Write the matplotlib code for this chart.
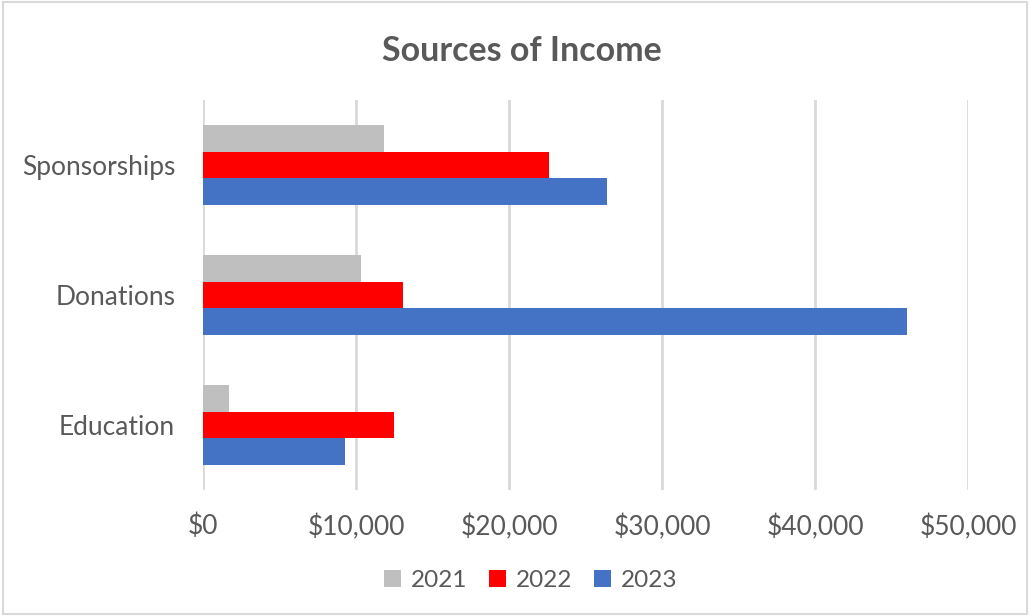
import matplotlib
matplotlib.use("Agg")
import matplotlib.pyplot as plt
import numpy as np
from matplotlib.patches import Rectangle
from matplotlib.ticker import FuncFormatter

categories = ["Education", "Donations", "Sponsorships"]
years = ["2021", "2022", "2023"]
values_2021 = [1700, 10300, 11800]
values_2022 = [12500, 13100, 22600]
values_2023 = [9300, 46000, 26400]
colors = ["#BFBFBF", "#FF0000", "#4472C4"]

plt.rcParams["font.family"] = ["Lato", "DejaVu Sans"]
text_color = "#595959"

fig = plt.figure(figsize=(10.3, 6.16), dpi=100)
ax = fig.add_axes([0.197, 0.2045, 0.743, 0.6335])

y = np.arange(len(categories))
h = 0.204
series = [values_2021, values_2022, values_2023]
offsets = [h, 0, -h]
for vals, off, col, yr in zip(series, offsets, colors, years):
    ax.barh(y + off, vals, height=h, color=col, label=yr, zorder=3)

ax.set_xlim(0, 50000)
ax.set_ylim(-0.5, 2.5)
ax.set_xticks(range(0, 50001, 10000))
ax.xaxis.set_major_formatter(FuncFormatter(lambda v, p: f"${v:,.0f}"))
ax.set_yticks(y)
ax.set_yticklabels(categories)
ax.tick_params(length=0, labelsize=19, colors=text_color)
ax.tick_params(axis="x", pad=17)
ax.tick_params(axis="y", pad=20)
ax.grid(axis="x", color="#D9D9D9", linewidth=2, zorder=0)
for s in ax.spines.values():
    s.set_visible(False)

fig.text(0.507, 0.918, "Sources of Income", ha="center", va="center",
         fontsize=24.5, fontweight="bold", color=text_color)

leg = fig.legend(loc="center", bbox_to_anchor=(0.515, 0.058), ncol=3, frameon=False,
                 fontsize=17.5, handlelength=0.7, handleheight=0.7, handletextpad=0.4,
                 columnspacing=0.9)
for t in leg.get_texts():
    t.set_color(text_color)

fig.patches.append(Rectangle((0.003, 0.003), 0.994, 0.994, transform=fig.transFigure,
                             fill=False, edgecolor="#D9D9D9", linewidth=1.5))

fig.savefig("out.png", dpi=100)
